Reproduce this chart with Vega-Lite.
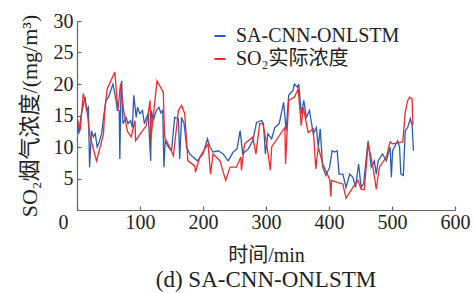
{
  "$schema": "https://vega.github.io/schema/vega-lite/v6.json",
  "width": 378,
  "height": 189,
  "autosize": {"type": "none"},
  "padding": {"left": 77, "top": 21, "right": 18, "bottom": 83},
  "config": {
    "view": {"stroke": null},
    "font": "Liberation Serif, Noto Sans CJK SC",
    "axis": {"labelOverlap": false, "labelBound": false}
  },
  "title": {
    "text": "(d) SA-CNN-ONLSTM",
    "orient": "bottom",
    "anchor": "middle",
    "font": "Liberation Serif",
    "fontSize": 23,
    "fontWeight": "normal",
    "color": "#222",
    "offset": 4
  },
  "datasets": {
    "pred": [
      {"t":0,"v":14.5},{"t":3,"v":12.1},{"t":7,"v":15.3},{"t":13,"v":17.9},{"t":15,"v":15.8},{"t":18,"v":16.3},{"t":20,"v":6.8},{"t":23,"v":12.6},{"t":26,"v":11.6},{"t":29,"v":12.1},{"t":32,"v":10},{"t":36,"v":11},{"t":39,"v":12.1},{"t":43,"v":15.3},{"t":46,"v":17.4},{"t":50,"v":17.9},{"t":57,"v":20},{"t":62,"v":17.4},{"t":64,"v":15.8},{"t":67,"v":15.8},{"t":68,"v":8.1},{"t":70,"v":20},{"t":71,"v":20.5},{"t":73,"v":13.7},{"t":78,"v":14.7},{"t":81,"v":13.7},{"t":85,"v":14.2},{"t":88,"v":13.1},{"t":90,"v":18.2},{"t":94,"v":14.7},{"t":96,"v":16.3},{"t":100,"v":15.3},{"t":104,"v":15.8},{"t":107,"v":13.7},{"t":110,"v":14.6},{"t":113,"v":15.3},{"t":117,"v":7.8},{"t":118,"v":15.8},{"t":121,"v":14.2},{"t":124,"v":15.2},{"t":126,"v":15.8},{"t":130,"v":16.3},{"t":133,"v":15.4},{"t":136,"v":15.8},{"t":138,"v":6.8},{"t":140,"v":11},{"t":145,"v":10},{"t":150,"v":9.4},{"t":155,"v":14.7},{"t":161,"v":14.5},{"t":163,"v":8.1},{"t":166,"v":14.7},{"t":170,"v":13.7},{"t":174,"v":10},{"t":179,"v":8.9},{"t":184,"v":8.4},{"t":191,"v":7.8},{"t":200,"v":8.9},{"t":207,"v":11.3},{"t":211,"v":10},{"t":216,"v":9.2},{"t":224,"v":9.4},{"t":232,"v":8.9},{"t":240,"v":7.8},{"t":248,"v":9.2},{"t":254,"v":9.7},{"t":259,"v":12.6},{"t":263,"v":8.9},{"t":272,"v":9.7},{"t":279,"v":11},{"t":285,"v":13.9},{"t":293,"v":14.2},{"t":296,"v":13.7},{"t":299,"v":8.9},{"t":303,"v":12.1},{"t":309,"v":11.3},{"t":314,"v":13.1},{"t":321,"v":13.7},{"t":328,"v":17.1},{"t":332,"v":12.6},{"t":336,"v":18.2},{"t":343,"v":19},{"t":345,"v":20},{"t":350,"v":19.5},{"t":352,"v":20},{"t":356,"v":15.3},{"t":360,"v":17.4},{"t":364,"v":14.7},{"t":369,"v":15.8},{"t":375,"v":12.1},{"t":380,"v":13.1},{"t":383,"v":10},{"t":386,"v":12.9},{"t":390,"v":6.8},{"t":395,"v":5.5},{"t":401,"v":6.8},{"t":405,"v":9.4},{"t":409,"v":9.2},{"t":413,"v":9.4},{"t":416,"v":5.7},{"t":422,"v":5.7},{"t":427,"v":3.6},{"t":433,"v":5.7},{"t":438,"v":5.2},{"t":442,"v":3.6},{"t":447,"v":7.3},{"t":451,"v":3.6},{"t":455,"v":4.2},{"t":462,"v":11},{"t":467,"v":6.8},{"t":472,"v":7.8},{"t":475,"v":5.7},{"t":478,"v":7.8},{"t":485,"v":8.9},{"t":491,"v":7.8},{"t":497,"v":10},{"t":499,"v":5.2},{"t":501,"v":9.4},{"t":509,"v":11},{"t":512,"v":10},{"t":514,"v":5.7},{"t":518,"v":5.5},{"t":521,"v":12.6},{"t":525,"v":13.1},{"t":529,"v":14.5},{"t":532,"v":13.4},{"t":534,"v":9.4}
    ],
    "actual": [
      {"t":0,"v":14.7},{"t":5,"v":12.6},{"t":10,"v":18.5},{"t":16,"v":15.8},{"t":20,"v":12},{"t":31,"v":7.8},{"t":42,"v":12},{"t":44,"v":15.8},{"t":48,"v":19.2},{"t":60,"v":21.9},{"t":65,"v":15.8},{"t":69,"v":20},{"t":74,"v":15.8},{"t":80,"v":12.5},{"t":86,"v":11.6},{"t":92,"v":14.2},{"t":93,"v":11},{"t":100,"v":12},{"t":110,"v":13.4},{"t":116,"v":17.4},{"t":117,"v":11},{"t":127,"v":20.5},{"t":137,"v":18.7},{"t":139,"v":11.6},{"t":147,"v":10},{"t":153,"v":8.6},{"t":161,"v":15.8},{"t":166,"v":16.6},{"t":171,"v":15.3},{"t":176,"v":7.8},{"t":187,"v":7},{"t":188,"v":6},{"t":195,"v":8.4},{"t":208,"v":10.5},{"t":212,"v":5.7},{"t":216,"v":8.9},{"t":227,"v":7.8},{"t":236,"v":4.7},{"t":243,"v":6.8},{"t":253,"v":6.8},{"t":260,"v":8.4},{"t":261,"v":6.3},{"t":266,"v":10.5},{"t":279,"v":11.6},{"t":284,"v":8.9},{"t":290,"v":13.7},{"t":295,"v":13.7},{"t":301,"v":10.5},{"t":307,"v":6.3},{"t":309,"v":10},{"t":330,"v":13.1},{"t":331,"v":7.3},{"t":336,"v":17.4},{"t":345,"v":17.9},{"t":351,"v":19.2},{"t":356,"v":13.4},{"t":359,"v":16.3},{"t":367,"v":12.3},{"t":375,"v":12.9},{"t":379,"v":6.5},{"t":383,"v":10},{"t":390,"v":7.3},{"t":401,"v":4.9},{"t":403,"v":2.1},{"t":404,"v":4.7},{"t":422,"v":4.1},{"t":427,"v":1.9},{"t":438,"v":3.6},{"t":446,"v":4.7},{"t":451,"v":3.3},{"t":456,"v":3.2},{"t":462,"v":10.5},{"t":469,"v":7.3},{"t":475,"v":3.3},{"t":480,"v":6.8},{"t":491,"v":8.4},{"t":497,"v":10.8},{"t":501,"v":10.5},{"t":517,"v":10.8},{"t":521,"v":15.5},{"t":525,"v":17.4},{"t":528,"v":17.9},{"t":532,"v":17.6},{"t":533,"v":13.4}
    ]
  },
  "encoding": {
    "x": {
      "field": "t", "type": "quantitative",
      "scale": {"domain": [0, 600], "nice": false},
      "axis": {
        "values": [0, 100, 200, 300, 400, 500, 600],
        "title": "时间/min",
        "titleFont": "Liberation Serif, Noto Sans CJK SC",
        "titleFontSize": 20, "titleFontWeight": "normal", "titleColor": "#222", "titlePadding": 13,
        "labelFont": "Liberation Serif", "labelFontSize": 20, "labelColor": "#222",
        "labelPadding": 6, "labelFlush": false, "labelOverlap": false,
        "labelOffset": {"condition": {"test": "datum.value === 0", "value": -14}, "value": 0},
        "grid": false, "domainColor": "#666", "domainWidth": 1.2,
        "tickColor": "#666", "tickSize": -4, "tickWidth": 1.2
      }
    },
    "y": {
      "field": "v", "type": "quantitative",
      "scale": {"domain": [0, 30], "nice": false},
      "axis": {
        "values": [5, 10, 15, 20, 25, 30],
        "title": "SO₂烟气浓度/(mg/m³)",
        "titleFont": "Liberation Serif, Noto Sans CJK SC",
        "titleFontSize": 22, "titleFontWeight": "normal", "titleColor": "#222", "titlePadding": 12,
        "labelFont": "Liberation Serif", "labelFontSize": 20, "labelColor": "#222",
        "labelPadding": 8, "labelOverlap": false,
        "grid": false, "domainColor": "#666", "domainWidth": 1.2,
        "tickColor": "#666", "tickSize": -4, "tickWidth": 1.2
      }
    },
    "color": {
      "field": "s", "type": "nominal",
      "scale": {"domain": ["SA-CNN-ONLSTM", "SO₂实际浓度"], "range": ["#2a5cb4", "#ee2a2a"]},
      "legend": {
        "title": null, "orient": "none", "legendX": 133, "legendY": 5,
        "symbolType": "stroke", "symbolSize": 121, "symbolStrokeWidth": 2,
        "labelFont": "Liberation Serif, Noto Sans CJK SC", "labelFontSize": 20, "labelColor": "#222",
        "labelOffset": 6, "rowPadding": 3, "labelLimit": 400
      }
    }
  },
  "layer": [
    {
      "data": {"name": "pred"},
      "transform": [{"calculate": "'SA-CNN-ONLSTM'", "as": "s"}],
      "mark": {"type": "line", "strokeWidth": 1.3, "clip": true}
    },
    {
      "data": {"name": "actual"},
      "transform": [{"calculate": "'SO₂实际浓度'", "as": "s"}],
      "mark": {"type": "line", "strokeWidth": 1.3, "clip": true}
    }
  ]
}
